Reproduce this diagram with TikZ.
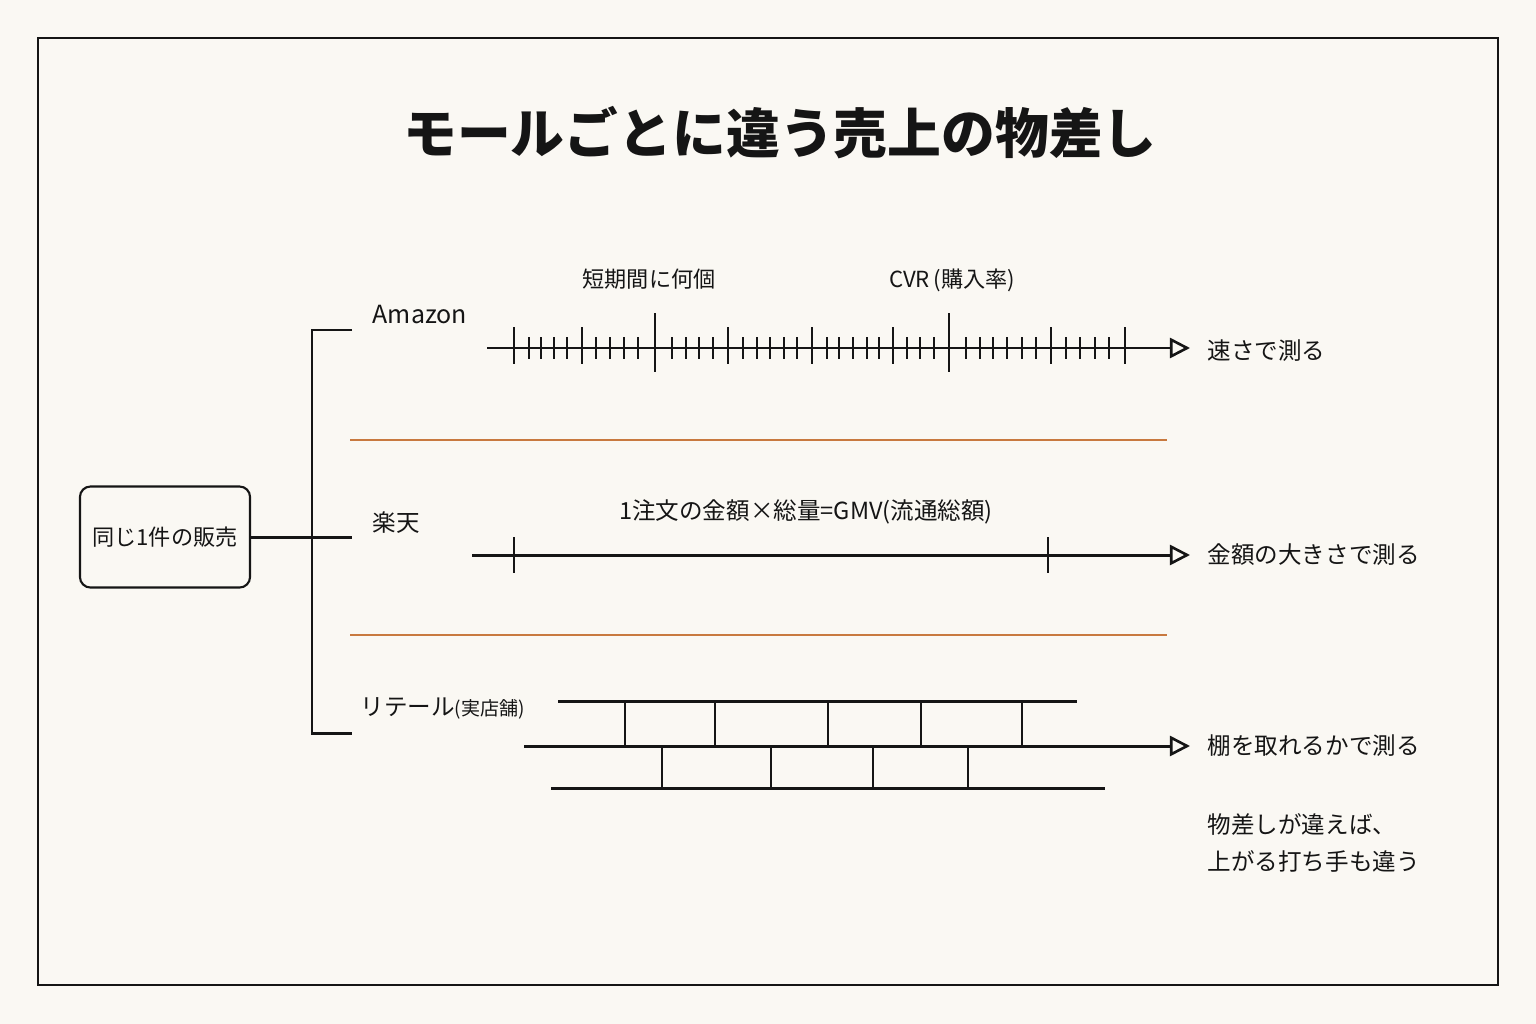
\documentclass[tikz,border=0pt]{standalone}
\usepackage{fontspec}
\setmainfont{Noto Sans CJK JP}
\usetikzlibrary{arrows.meta,positioning}
\definecolor{paper}{HTML}{FAF8F3}
\definecolor{ink}{HTML}{151515}
\definecolor{rulecol}{HTML}{C8793F}

\tikzset{
  lbl/.style={font=\fontsize{6.7}{8}\selectfont,inner sep=0pt,text=ink},
  axis/.style={line width=0.85pt,draw=ink},
  arr/.style={axis,-{Triangle[open,length=5.7pt,width=5.7pt,line width=0.75pt]}},
  shelf/.style={line width=0.45pt,draw=ink}
}

\begin{document}
\begin{tikzpicture}[x=0.01cm,y=-0.01cm]
\useasboundingbox (0,0) rectangle (1536,1024);
\fill[paper] (0,0) rectangle (1536,1024);
\draw[line width=0.6pt,draw=ink] (38,38) rectangle (1498,985);

% title
\node[inner sep=0pt,text=ink,font=\fontsize{15.3}{18}\selectfont\bfseries] (title) at (780,133) {モールごとに違う売上の物差し};

% left box and bracket
\node[lbl,draw=ink,line width=0.6pt,rounded corners=3pt,minimum width=1.7cm,minimum height=1.01cm,
      align=center,font=\fontsize{6.3}{8}\selectfont] (sale) at (165,537) {同じ1件の販売};
\coordinate (top) at (312,330);
\coordinate (mid) at (312,537);
\coordinate (bot) at (312,733);
\coordinate (topE) at (352,330);
\coordinate (midE) at (352,537);
\coordinate (botE) at (352,733);
\draw[axis] (sale.east) -- (midE);
\draw[axis] (topE) -- (top) -- (bot) -- (botE);

\node[lbl,anchor=west,font=\fontsize{7.1}{8}\selectfont] (amazon) at (372,315) {Amazon};
\node[lbl,anchor=west] (rakuten) at (372,523) {楽天};
\node[lbl,anchor=west] (retail) at (360,708) {リテール{\fontsize{5.4}{6}\selectfont(実店舗)}};

% separators
\draw[rulecol,line width=0.45pt] (350,440) -- (1167,440);
\draw[rulecol,line width=0.45pt] (350,635) -- (1167,635);

% Amazon ruler
\coordinate (a0) at (487,348);
\coordinate (a1) at (1190,348);
\draw[arr] (a0) -- (a1);
\foreach \x in {529,541,554,567,596,610,624,638,672,686,699,713,743,757,770,784,797,827,839,853,867,879,907,920,934,966,980,993,1007,1022,1036,1066,1080,1095,1109}
  \draw[line width=0.6pt,ink] (\x,337) -- (\x,359);
\foreach \x in {514,582,728,812,893,1051,1125}
  \draw[line width=0.8pt,ink] (\x,327) -- (\x,364);
\foreach \x in {655,949}
  \draw[line width=0.8pt,ink] (\x,313) -- (\x,372);
\node[lbl,font=\fontsize{6.3}{8}\selectfont] (fast) at (649,279) {短期間に何個};
\node[lbl,font=\fontsize{6.3}{8}\selectfont] (cvr) at (952,280) {CVR\,(購入率)};
\node[lbl,anchor=west] (speed) at (1207,351) {速さで測る};

% Rakuten ruler
\coordinate (r0) at (472,555);
\coordinate (r1) at (1190,555);
\draw[arr] (r0) -- (r1);
\foreach \x in {514,1048}
  \draw[line width=0.8pt,ink] (\x,537) -- (\x,573);
\node[lbl] (gmv) at (806,512) {1注文の金額×総量=GMV(流通総額)};
\node[lbl,anchor=west] (amount) at (1207,555) {金額の大きさで測る};

% Retail shelves
\coordinate (s0) at (524,746);
\coordinate (s1) at (1190,746);
\draw[axis] (558,701) -- (1077,701);
\draw[arr] (s0) -- (s1);
\draw[axis] (551,788) -- (1105,788);
\foreach \x in {625,715,828,921,1022}
  \draw[shelf] (\x,701) -- (\x,746);
\foreach \x in {662,771,873,968}
  \draw[shelf] (\x,746) -- (\x,788);
\node[lbl,anchor=west] (shelfl) at (1207,746) {棚を取れるかで測る};

\node[lbl,anchor=north west,align=left,font=\fontsize{6.7}{10.5}\selectfont] (note) at (1207,813) {物差しが違えば、\\上がる打ち手も違う};
\end{tikzpicture}
\end{document}
